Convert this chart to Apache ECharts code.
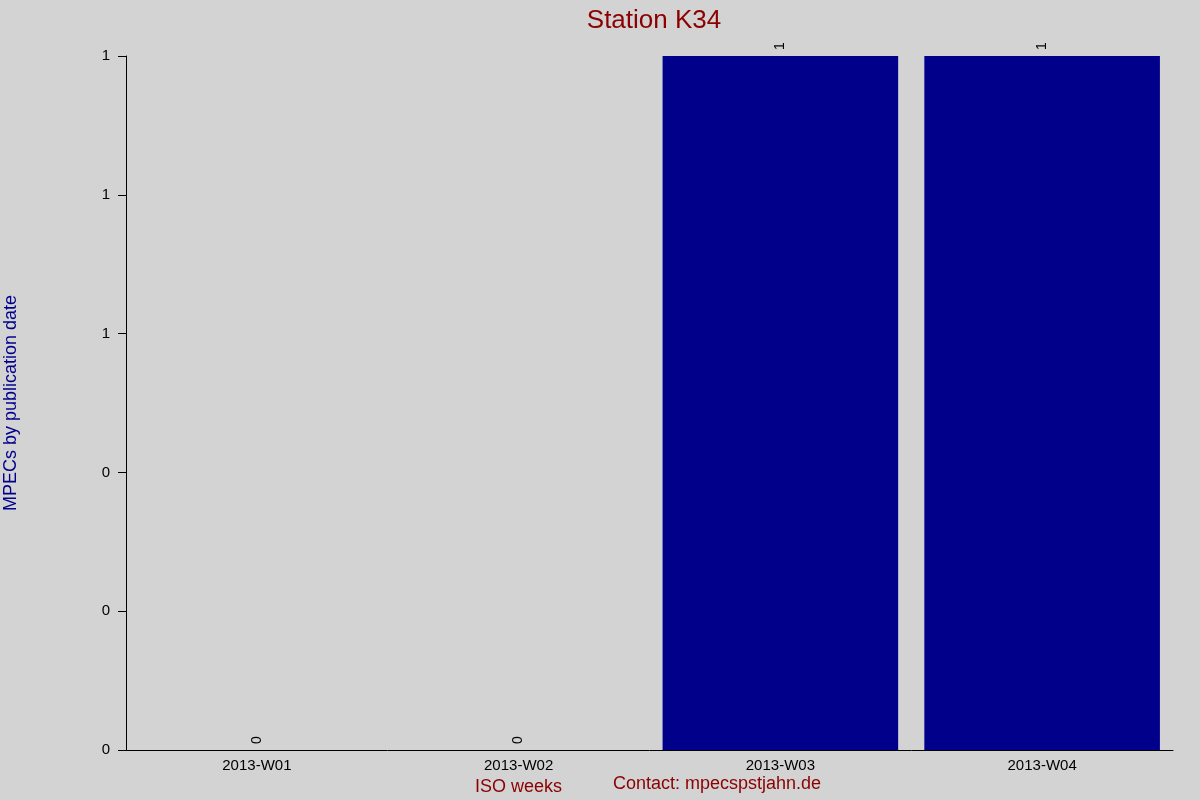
<!DOCTYPE html>
<html>
<head>
<meta charset="utf-8">
<script src="https://cdn.jsdelivr.net/npm/echarts@6/dist/echarts.min.js"></script>
<style>
  html, body { margin: 0; padding: 0; background: #d3d3d3; }
  #main { width: 1200px; height: 800px; }
</style>
</head>
<body>
<div id="main"></div>
<script>
var weeks = ['2013-W01', '2013-W02', '2013-W03', '2013-W04'];
var mpecs = [0, 0, 1, 1];

var myChart = echarts.init(document.getElementById('main'));

var option = {
    backgroundColor: '#d3d3d3',
    animation: false,
    textStyle: { fontFamily: 'Liberation Sans, Arial, sans-serif' },
    title: {
        text: 'Station K34',
        left: 649,
        top: 3,
        textAlign: 'center',
        textStyle: { color: '#8b0000', fontSize: 26, fontWeight: 'normal' }
    },
    grid: { left: 126, right: 27, top: 56, bottom: 50, outerBoundsMode: 'none', containLabel: false },
    xAxis: {
        type: 'category',
        data: weeks,
        name: 'ISO weeks',
        nameLocation: 'middle',
        nameGap: 27,
        nameTextStyle: { color: '#8b0000', fontSize: 18, padding: [0, 262, 0, 0] },
        axisLine: { lineStyle: { color: '#000', width: 1 } },
        axisTick: { show: false },
        axisLabel: { color: '#000', fontSize: 15, margin: 8 },
        splitLine: { show: false }
    },
    yAxis: {
        type: 'value',
        min: 0,
        max: 1,
        interval: 0.2,
        name: 'MPECs by publication date',
        nameLocation: 'middle',
        nameGap: 106,
        nameTextStyle: { color: '#00008b', fontSize: 18 },
        axisLine: { show: true, lineStyle: { color: '#000', width: 1 } },
        axisTick: { show: true, length: 8, lineStyle: { color: '#000' } },
        axisLabel: {
            color: '#000',
            fontSize: 15,
            margin: 16,
            formatter: function (v) { return Math.round(v).toString(); }
        },
        splitLine: { show: false }
    },
    graphic: [{
        type: 'text',
        left: 613,
        top: 775,
        style: { text: 'Contact: mpecspstjahn.de', fill: '#8b0000', fontSize: 18, fontFamily: 'Liberation Sans, Arial, sans-serif' }
    }],
    series: [{
        type: 'bar',
        data: mpecs,
        barCategoryGap: '10%',
        itemStyle: { color: '#00008b' },
        label: {
            show: true,
            position: 'top',
            rotate: 90,
            align: 'left',
            verticalAlign: 'middle',
            distance: 6,
            color: '#000',
            fontSize: 14
        }
    }]
};

myChart.setOption(option);
</script>
</body>
</html>
